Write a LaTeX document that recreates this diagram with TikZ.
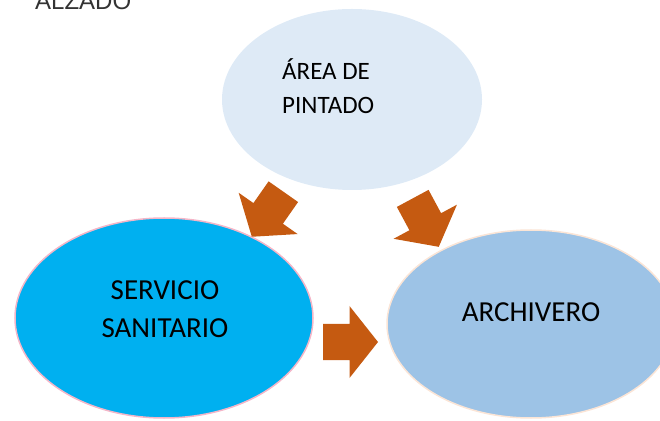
\documentclass[tikz,border=0pt]{standalone}
\usepackage{fontspec}
\setmainfont{Carlito}
\newfontfamily\alzfont{Liberation Sans}
\usetikzlibrary{shapes.geometric}
\definecolor{topfill}{HTML}{DEEAF6}
\definecolor{leftfill}{HTML}{00B0F0}
\definecolor{leftline}{HTML}{F4B6C8}
\definecolor{rightfill}{HTML}{9DC3E6}
\definecolor{rightline}{HTML}{FBE5D6}
\definecolor{arrowc}{HTML}{C55A11}
\tikzset{
  oval/.style={ellipse, inner sep=0pt, outer sep=0pt},
  blockarrow/.pic={\fill[arrowc] (0,-18) -- (26.5,-18) -- (26.5,-36) -- (55,0) -- (26.5,36) -- (26.5,18) -- (0,18) -- cycle;},
  lbl/.style={font=\fontsize{29}{38}\selectfont, align=center, inner sep=0pt},
  toplbl/.style={font=\fontsize{25}{34}\selectfont, align=left, inner sep=0pt},
}
\begin{document}
\begin{tikzpicture}[x=1pt,y=1pt]
\useasboundingbox (0,0) rectangle (660,420);
\clip (0,0) rectangle (660,420);
\node[anchor=base west, inner sep=0pt, font=\alzfont\fontsize{24}{28}\selectfont, text=black!80] (alz) at (35,410) {ALZADO};
\node[oval, fill=topfill, minimum width=260pt, minimum height=181pt] (area) at (352,320.5) {};
\node[oval, fill=leftfill, draw=leftline, line width=1.5pt, minimum width=298pt, minimum height=200pt] (serv) at (164,102) {};
\node[oval, fill=rightfill, draw=rightline, line width=1.5pt, minimum width=288pt, minimum height=188pt] (arch) at (531,96) {};
\node[toplbl, anchor=base west] (areatext) at (282,306) {ÁREA DE\\PINTADO};
\node[lbl, anchor=base] (servtext) at (165,82) {SERVICIO\\SANITARIO};
\node[lbl, anchor=base] (archtext) at (531,98.3) {ARCHIVERO};
\pic[rotate=-125] at (283.35,228.3) {blockarrow};
\pic[rotate=-61.7] at (412.7,221.6) {blockarrow};
\pic at (323,78) {blockarrow};
\end{tikzpicture}
\end{document}
